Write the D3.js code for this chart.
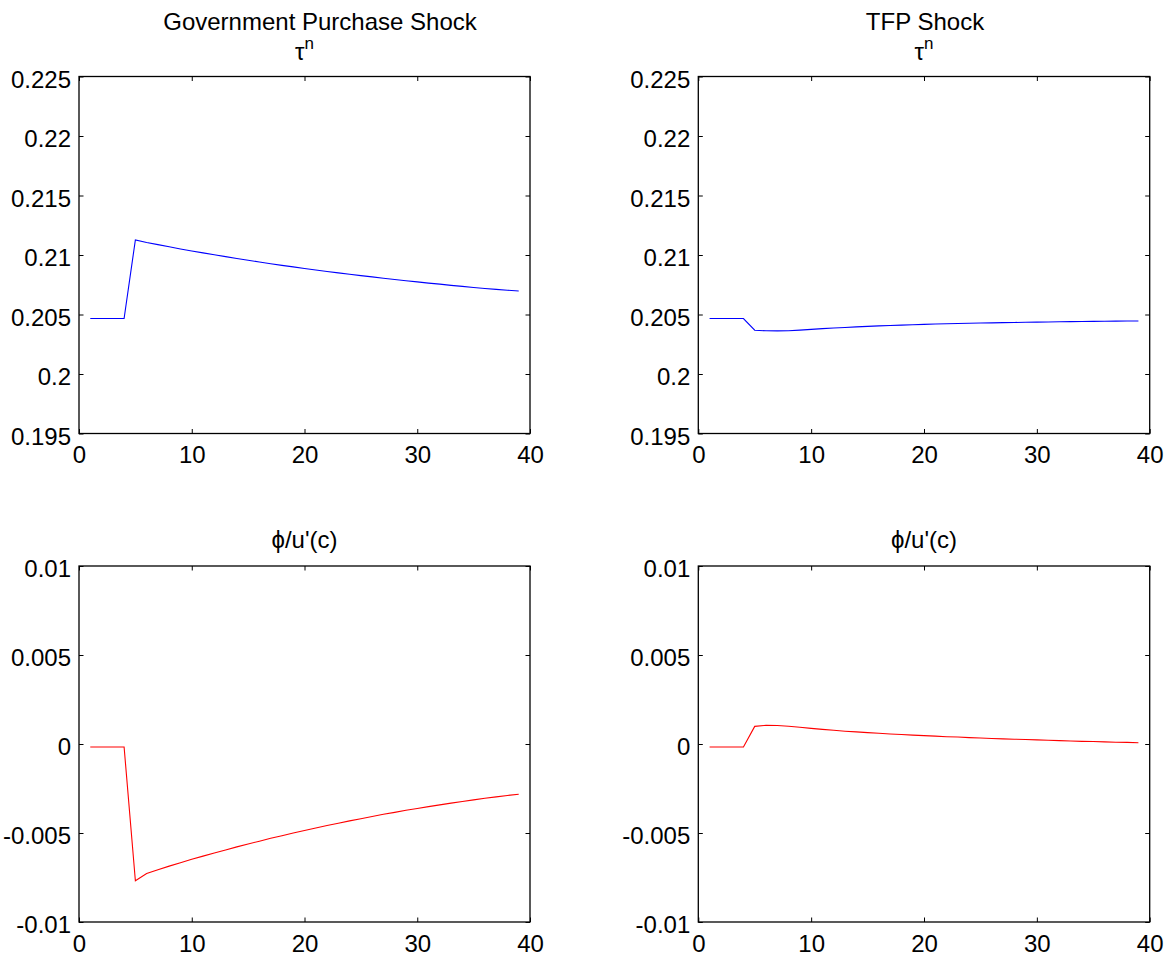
<!DOCTYPE html>
<html>
<head>
<meta charset="utf-8">
<script src="https://cdn.jsdelivr.net/npm/d3@7"></script>
<style>
  html, body { margin: 0; padding: 0; background: #fff; }
  svg text { font-family: "Liberation Sans", Arial, Helvetica, sans-serif; fill: #000; }
</style>
</head>
<body>
<svg id="chart" width="1174" height="959"></svg>
<script>
// ---------- data ----------
const periods = d3.range(1, 40); // 1..39

const tauGov = [0.20466, 0.20466, 0.20466, 0.20466,
  0.21127, 0.21105, 0.21087, 0.21069, 0.21051, 0.21034, 0.21018, 0.21002, 0.20986, 0.20971,
  0.20956, 0.20941, 0.20927, 0.20913, 0.20900, 0.20887, 0.20874, 0.20862, 0.20850, 0.20838,
  0.20827, 0.20816, 0.20805, 0.20794, 0.20784, 0.20774, 0.20764, 0.20755, 0.20745, 0.20736,
  0.20727, 0.20719, 0.20711, 0.20704, 0.20698];

const tauTfp = [0.20466, 0.20466, 0.20466, 0.20466,
  0.20368, 0.20363, 0.20362, 0.20364, 0.20369, 0.20375, 0.20381, 0.20386, 0.20391, 0.20396,
  0.20400, 0.20404, 0.20408, 0.20411, 0.20414, 0.20417, 0.20420, 0.20422, 0.20424, 0.20426,
  0.20428, 0.20430, 0.20432, 0.20433, 0.20435, 0.20436, 0.20437, 0.20439, 0.20440, 0.20441,
  0.20442, 0.20443, 0.20444, 0.20445, 0.20446];

const phiGov = [-0.00017, -0.00017, -0.00017, -0.00017,
  -0.00768, -0.00728, -0.00706, -0.00686, -0.00667, -0.00648, -0.00630, -0.00612, -0.00595, -0.00578,
  -0.00562, -0.00546, -0.00530, -0.00515, -0.00500, -0.00486, -0.00472, -0.00458, -0.00445, -0.00432,
  -0.00420, -0.00407, -0.00395, -0.00384, -0.00372, -0.00362, -0.00352, -0.00342, -0.00332, -0.00323,
  -0.00314, -0.00305, -0.00297, -0.00289, -0.00282];

const phiTfp = [-0.00017, -0.00017, -0.00017, -0.00017,
  0.00099, 0.00105, 0.00104, 0.00100, 0.00094, 0.00088, 0.00082, 0.00077, 0.00072, 0.00068,
  0.00064, 0.00060, 0.00056, 0.00053, 0.00050, 0.00047, 0.00044, 0.00041, 0.00039, 0.00036,
  0.00034, 0.00031, 0.00029, 0.00027, 0.00025, 0.00023, 0.00021, 0.00019, 0.00017, 0.00015,
  0.00014, 0.00012, 0.00010, 0.00009, 0.00007];

const xTicks = [0, 10, 20, 30, 40];
const tauTicks = [0.195, 0.2, 0.205, 0.21, 0.215, 0.22, 0.225];
const tauTickLabels = ["0.195", "0.2", "0.205", "0.21", "0.215", "0.22", "0.225"];
const phiTicks = [-0.01, -0.005, 0, 0.005, 0.01];
const phiTickLabels = ["-0.01", "-0.005", "0", "0.005", "0.01"];

// ---------- layout ----------
const svg = d3.select("#chart");
const FS = 24;

const panels = [
  { x0: 79, x1: 530, y0: 76.5, y1: 433.5, data: tauGov, color: "#0000ff",
    dom: [0.195, 0.225], ticks: tauTicks, labels: tauTickLabels,
    title: "Government Purchase Shock", titleX: 320, sub: "tau" },
  { x0: 698.3, x1: 1149.7, y0: 76.5, y1: 433.5, data: tauTfp, color: "#0000ff",
    dom: [0.195, 0.225], ticks: tauTicks, labels: tauTickLabels,
    title: "TFP Shock", titleX: 925, sub: "tau" },
  { x0: 79, x1: 530, y0: 566, y1: 922, data: phiGov, color: "#ff0000",
    dom: [-0.01, 0.01], ticks: phiTicks, labels: phiTickLabels,
    title: null, sub: "phi" },
  { x0: 698.3, x1: 1149.7, y0: 566, y1: 922, data: phiTfp, color: "#ff0000",
    dom: [-0.01, 0.01], ticks: phiTicks, labels: phiTickLabels,
    title: null, sub: "phi" }
];

panels.forEach(p => {
  const x = d3.scaleLinear().domain([0, 40]).range([p.x0, p.x1]);
  const y = d3.scaleLinear().domain(p.dom).range([p.y1, p.y0]);
  const g = svg.append("g");
  const tl = 4.5;

  // line
  const line = d3.line().x((d, i) => x(periods[i])).y(d => y(d));
  g.append("path").datum(p.data)
    .attr("d", line).attr("fill", "none")
    .attr("stroke", p.color).attr("stroke-width", 1.1);

  // axes (inside ticks on all four sides)
  const fmtX = d => String(d);
  const bottom = g.append("g").attr("transform", `translate(0,${p.y1})`)
    .call(d3.axisBottom(x).tickValues(xTicks).tickSizeInner(-tl).tickSizeOuter(0).tickFormat(fmtX));
  const top = g.append("g").attr("transform", `translate(0,${p.y0})`)
    .call(d3.axisTop(x).tickValues(xTicks).tickSizeInner(-tl).tickSizeOuter(0).tickFormat(""));
  const left = g.append("g").attr("transform", `translate(${p.x0},0)`)
    .call(d3.axisLeft(y).tickValues(p.ticks).tickSizeInner(-tl).tickSizeOuter(0)
      .tickFormat((d, i) => p.labels[i]));
  const right = g.append("g").attr("transform", `translate(${p.x1},0)`)
    .call(d3.axisRight(y).tickValues(p.ticks).tickSizeInner(-tl).tickSizeOuter(0).tickFormat(""));

  [bottom, top, left, right].forEach(a => {
    a.select(".domain").remove();
    a.selectAll("line").attr("stroke", "#000").attr("stroke-width", 1);
  });
  bottom.selectAll("text").attr("y", 29.5).attr("dy", null)
    .style("font-size", FS + "px").style("font-family", '"Liberation Sans", Arial, sans-serif').attr("fill", "#000");
  left.selectAll("text").attr("x", -8).attr("dy", null).attr("y", 10.5)
    .style("font-size", FS + "px").style("font-family", '"Liberation Sans", Arial, sans-serif').attr("fill", "#000");

  // frame
  g.append("rect").attr("x", p.x0).attr("y", p.y0)
    .attr("width", p.x1 - p.x0).attr("height", p.y1 - p.y0)
    .attr("fill", "none").attr("stroke", "#000").attr("stroke-width", 1.3);

  // titles
  const cx = (p.x0 + p.x1) / 2;
  if (p.sub === "tau") {
    svg.append("text").attr("x", p.titleX).attr("y", 30).attr("text-anchor", "middle")
      .style("font-size", FS + "px").text(p.title);
    const t = svg.append("text").attr("x", cx).attr("y", 60).attr("text-anchor", "middle")
      .style("font-size", FS + "px");
    t.append("tspan").text("\u03c4");
    t.append("tspan").attr("dy", -11).style("font-size", "17px").text("n");
  } else {
    svg.append("text").attr("x", cx).attr("y", 548).attr("text-anchor", "middle")
      .style("font-size", FS + "px").text("\u03d5/u'(c)");
  }
});
</script>
</body>
</html>
